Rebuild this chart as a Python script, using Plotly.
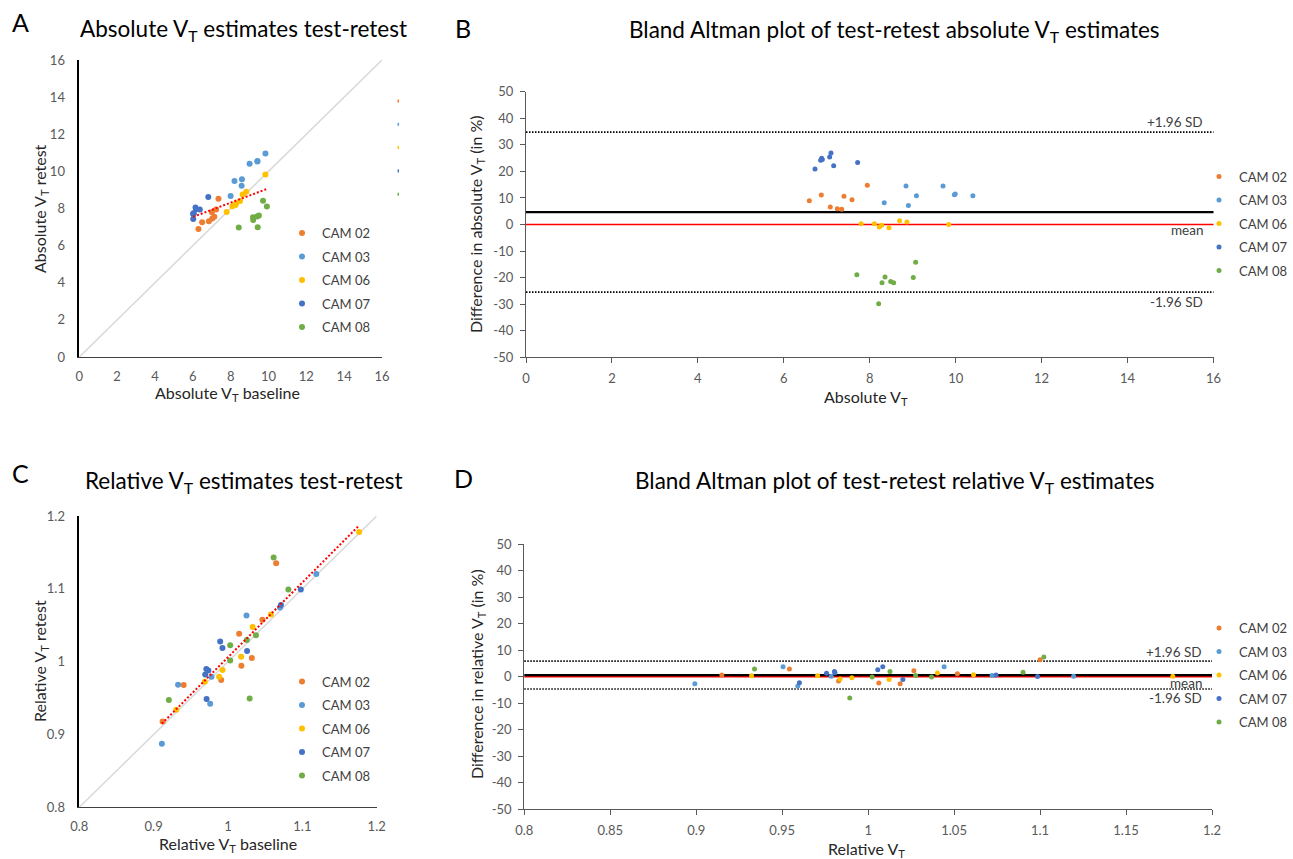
import numpy as np
import plotly.graph_objects as go

W, H = 1293, 859
FONT = "Lato"

cam_names = ["CAM 02", "CAM 03", "CAM 06", "CAM 07", "CAM 08"]
cam_colors = ["#ED7D31", "#5B9BD5", "#FFC000", "#4472C4", "#70AD47"]

# Absolute V_T: mean of test/retest and % difference (test-retest)
abs_mean_cam02 = [6.594, 6.873, 7.082, 7.245, 7.347, 7.400, 7.587, 7.943]
abs_diff_cam02 = [8.96, 11.1, 6.6, 5.95, 5.7, 10.6, 9.3, 14.8]
abs_mean_cam03 = [8.337, 8.843, 8.900, 9.087, 9.705, 9.970, 9.990, 10.400]
abs_diff_cam03 = [8.15, 14.5, 7.2, 10.8, 14.5, 11.2, 11.5, 10.8]
abs_mean_cam06 = [7.800, 8.108, 8.220, 8.277, 8.448, 8.695, 8.865, 9.838]
abs_diff_cam06 = [0.3, 0.3, -0.9, -0.3, -1.2, 1.4, 0.9, 0.0]
abs_mean_cam07 = [6.726, 6.857, 6.880, 6.896, 7.067, 7.098, 7.160, 7.718]
abs_diff_cam07 = [20.9, 24.2, 24.9, 24.5, 25.4, 26.9, 22.1, 23.3]
abs_mean_cam08 = [7.700, 8.207, 8.285, 8.355, 8.487, 8.556, 9.013, 9.068]
abs_diff_cam08 = [-18.9, -29.8, -21.9, -19.8, -21.5, -21.9, -20.0, -14.2]

# Relative V_T: mean of test/retest and % difference
rel_mean_cam02 = [0.9149, 0.9542, 0.9828, 1.0062, 1.0186, 1.0266, 1.0519, 1.1000]
rel_diff_cam02 = [0.63, 2.89, -1.63, -2.35, -2.64, 2.26, 1.07, 6.41]
rel_mean_cam03 = [0.8992, 0.9505, 0.9591, 0.9785, 1.0442, 1.0721, 1.1195]
rel_diff_cam03 = [-2.64, 3.72, -3.53, 0.15, 3.70, 0.40, 0.13]
rel_mean_cam06 = [0.9322, 0.9706, 0.9837, 0.9905, 1.0122, 1.0403, 1.0613, 1.1772]
rel_diff_cam06 = [0.38, 0.38, -0.88, -0.42, -1.07, 1.38, 0.68, 0.13]
rel_mean_cam07 = [0.9600, 0.9758, 0.9804, 0.9807, 1.0056, 1.0085, 1.0202, 1.0744, 1.0985]
rel_diff_cam07 = [-2.33, 1.32, 1.95, 1.45, 2.60, 3.77, -1.07, 0.60, 0.10]
rel_mean_cam08 = [0.9339, 0.9893, 1.0023, 1.0127, 1.0276, 1.0369, 1.0901, 1.1022]
rel_diff_cam08 = [2.88, -8.05, -0.13, 1.92, 0.44, -0.13, 1.63, 7.41]

abs_range = [0, 16]
ba_range = [-50, 50]
rel_range = [0.8, 1.2]
zero_ref = 0.0
ba_ticks = list(range(-50, 51, 10))

abs_means = [abs_mean_cam02, abs_mean_cam03, abs_mean_cam06, abs_mean_cam07, abs_mean_cam08]
abs_diffs = [abs_diff_cam02, abs_diff_cam03, abs_diff_cam06, abs_diff_cam07, abs_diff_cam08]
rel_means = [rel_mean_cam02, rel_mean_cam03, rel_mean_cam06, rel_mean_cam07, rel_mean_cam08]
rel_diffs = [rel_diff_cam02, rel_diff_cam03, rel_diff_cam06, rel_diff_cam07, rel_diff_cam08]


def px_x(p):
    return p / W


def px_y(p):
    return 1 - p / H


fig = go.Figure()

# identity lines
fig.add_trace(go.Scatter(x=abs_range, y=abs_range, mode="lines", line=dict(color="#D9D9D9", width=1.5),
                         showlegend=False, hoverinfo="skip", xaxis="x", yaxis="y"))
fig.add_trace(go.Scatter(x=rel_range, y=rel_range, mode="lines", line=dict(color="#D9D9D9", width=1.5),
                         showlegend=False, hoverinfo="skip", xaxis="x3", yaxis="y3"))


def add_block(means, diffs, sc_axes, ba_axes, leg_sc, leg_ba, tag):
    all_b, all_r, all_d = [], [], []
    for i, name in enumerate(cam_names):
        m = np.array(means[i], dtype=float)
        d = np.array(diffs[i], dtype=float)
        base = m * (1 - d / 200.0)
        ret = m * (1 + d / 200.0)
        all_b += list(base)
        all_r += list(ret)
        all_d += list(d)
        fig.add_trace(go.Scatter(x=base, y=ret, mode="markers", name=name,
                                 marker=dict(color=cam_colors[i], size=6),
                                 xaxis=sc_axes[0], yaxis=sc_axes[1], legend=leg_sc,
                                 legendgroup=tag + "s" + name))
        fig.add_trace(go.Scatter(x=m, y=d, mode="markers", name=name,
                                 marker=dict(color=cam_colors[i], size=5),
                                 xaxis=ba_axes[0], yaxis=ba_axes[1], legend=leg_ba,
                                 legendgroup=tag + "b" + name))
    all_b = np.array(all_b)
    all_r = np.array(all_r)
    coef = np.polyfit(all_b, all_r, 1)
    xs = np.array([all_b.min(), all_b.max()])
    fig.add_trace(go.Scatter(x=xs, y=np.polyval(coef, xs), mode="lines",
                             line=dict(color="#FF0000", width=2, dash="2px,2px"),
                             showlegend=False, hoverinfo="skip",
                             xaxis=sc_axes[0], yaxis=sc_axes[1]))
    all_d = np.array(all_d)
    mean_d = all_d.mean()
    sd = all_d.std(ddof=1)
    return mean_d, mean_d + 1.96 * sd, mean_d - 1.96 * sd


abs_stats = add_block(abs_means, abs_diffs, ("x", "y"), ("x2", "y2"), "legend", "legend2", "A")
rel_stats = add_block(rel_means, rel_diffs, ("x3", "y3"), ("x4", "y4"), "legend3", "legend4", "R")

shapes = []
annotations = []
lab_font = dict(family=FONT, size=13.5, color="#404040")
for (xr, yr, stats, shifts) in [("x2", "y2", abs_stats, (0, 4, 0)), ("x4", "y4", rel_stats, (-1, 4, 1))]:
    mean_d, up, lo = stats
    shapes.append(dict(type="line", xref=xr + " domain", yref=yr, x0=0, x1=1, y0=zero_ref, y1=zero_ref,
                       line=dict(color="#FF0000", width=1.5), layer="below"))
    shapes.append(dict(type="line", xref=xr + " domain", yref=yr, x0=0, x1=1, y0=mean_d, y1=mean_d,
                       line=dict(color="#000000", width=2.2), layer="below"))
    for v in (up, lo):
        shapes.append(dict(type="line", xref=xr + " domain", yref=yr, x0=0, x1=1, y0=v, y1=v,
                           line=dict(color="#000000", width=1.6, dash="1.5px,1.5px"), layer="below"))
    annotations.append(dict(text="+1.96 SD", xref=xr + " domain", yref=yr, x=0.988, y=up,
                            xanchor="right", yanchor="bottom", showarrow=False, font=lab_font, yshift=shifts[0]))
    annotations.append(dict(text="mean", xref=xr + " domain", yref=yr, x=0.988, y=zero_ref,
                            xanchor="right", yanchor="top", showarrow=False, font=lab_font, yshift=shifts[1]))
    annotations.append(dict(text="-1.96 SD", xref=xr + " domain", yref=yr, x=0.988, y=lo,
                            xanchor="right", yanchor="top", showarrow=False, font=lab_font, yshift=shifts[2]))

# legend artefacts to the right of panel A
for i, c in enumerate(cam_colors):
    yc = 101 + 23.3 * i
    shapes.append(dict(type="line", xref="paper", yref="paper", x0=px_x(398.3), x1=px_x(398.3),
                       y0=px_y(yc - 1.5), y1=px_y(yc + 1.5), line=dict(color=c, width=1.5)))


def txt(s, x, y, size, color="#000000", angle=0):
    annotations.append(dict(text=s, xref="paper", yref="paper", x=px_x(x), y=px_y(y), xanchor="center",
                            yanchor="middle", showarrow=False, textangle=angle,
                            font=dict(family=FONT, size=size, color=color)))


# panel letters
txt("A", 20, 22, 25)
txt("B", 463, 28, 25)
txt("C", 20, 473, 25)
txt("D", 463, 478, 25)
# titles
TS = 22.5
txt("Absolute V<sub>T</sub> estimates test-retest", 243, 30, TS)
txt("Bland Altman plot of test-retest absolute V<sub>T</sub> estimates", 895, 31, TS)
txt("Relative V<sub>T</sub> estimates test-retest", 244, 482, TS)
txt("Bland Altman plot of test-retest relative V<sub>T</sub> estimates", 895, 482, TS)
# axis titles
ax_col = "#262626"
AS = 16
txt("Absolute V<sub>T</sub> baseline", 227.5, 393, AS, ax_col)
txt("Absolute V<sub>T</sub> retest", 40, 209, AS, ax_col, -90)
txt("Absolute V<sub>T</sub>", 866, 397, AS, ax_col)
txt("Difference in absolute V<sub>T</sub> (in %)", 477, 224, AS, ax_col, -90)
txt("Relative V<sub>T</sub> baseline", 228, 844, AS, ax_col)
txt("Relative V<sub>T</sub> retest", 40, 661, AS, ax_col, -90)
txt("Relative V<sub>T</sub>", 866, 849, AS, ax_col)
txt("Difference in relative V<sub>T</sub> (in %)", 477, 674, AS, ax_col, -90)

tickfont = dict(family=FONT, size=13, color="#595959")


def dom_x(a, b):
    return [px_x(a), px_x(b)]


def dom_y(top, bottom):
    return [px_y(bottom), px_y(top)]


sc_common = dict(showgrid=False, zeroline=False, showline=True, ticks="", tickfont=tickfont,
                 fixedrange=True, automargin=False)
ba_common = dict(showgrid=False, zeroline=False, showline=True, ticks="outside", ticklen=5,
                 tickcolor="#595959", tickwidth=1, linecolor="#595959", linewidth=1.3,
                 tickfont=tickfont, fixedrange=True, automargin=False)

legend_common = dict(yanchor="top", font=dict(family=FONT, size=13, color="#404040"),
                     bgcolor="rgba(0,0,0,0)", itemwidth=30, tracegroupgap=3.6, itemclick=False,
                     itemdoubleclick=False)

fig.update_layout(
    template="none",
    width=W, height=H, autosize=False, margin=dict(l=0, r=0, t=0, b=0, pad=0),
    paper_bgcolor="white", plot_bgcolor="white", font=dict(family=FONT),
    xaxis=dict(domain=dom_x(79.3, 382), range=abs_range, dtick=2, tick0=0, anchor="y",
               linecolor="#404040", linewidth=1.3, ticklabelstandoff=7, **sc_common),
    yaxis=dict(domain=dom_y(60, 357), range=abs_range, dtick=2, tick0=0, anchor="x",
               linecolor="#000000", linewidth=1.5, ticklabelstandoff=10, **sc_common),
    xaxis2=dict(domain=dom_x(526, 1213.5), range=abs_range, dtick=2, tick0=0, anchor="y2",
                ticklabelstandoff=4, **ba_common),
    yaxis2=dict(domain=dom_y(91.7, 357.3), range=ba_range, tickmode="array", tickvals=ba_ticks,
                ticktext=[str(v) for v in ba_ticks], anchor="x2", ticklabelstandoff=4, **ba_common),
    xaxis3=dict(domain=dom_x(79.3, 376.7), range=rel_range, dtick=0.1, tick0=0.8, anchor="y3",
                linecolor="#404040", linewidth=1.3, ticklabelstandoff=7, **sc_common),
    yaxis3=dict(domain=dom_y(516, 807.3), range=rel_range, dtick=0.1, tick0=0.8, anchor="x3",
                linecolor="#000000", linewidth=1.5, ticklabelstandoff=10, **sc_common),
    xaxis4=dict(domain=dom_x(524.3, 1212), range=rel_range, dtick=0.05, tick0=0.8, anchor="y4",
                ticklabelstandoff=4, **ba_common),
    yaxis4=dict(domain=dom_y(544, 809.3), range=ba_range, tickmode="array", tickvals=ba_ticks,
                ticktext=[str(v) for v in ba_ticks], anchor="x4", ticklabelstandoff=4, **ba_common),
    legend=dict(x=px_x(282), y=px_y(218), xanchor="left", **legend_common),
    legend2=dict(x=1.0, y=px_y(161.5), xanchor="right", **legend_common),
    legend3=dict(x=px_x(282), y=px_y(666.5), xanchor="left", **legend_common),
    legend4=dict(x=1.0, y=px_y(613), xanchor="right", **legend_common),
    shapes=shapes,
    annotations=annotations,
)

fig.write_html("out.html")
